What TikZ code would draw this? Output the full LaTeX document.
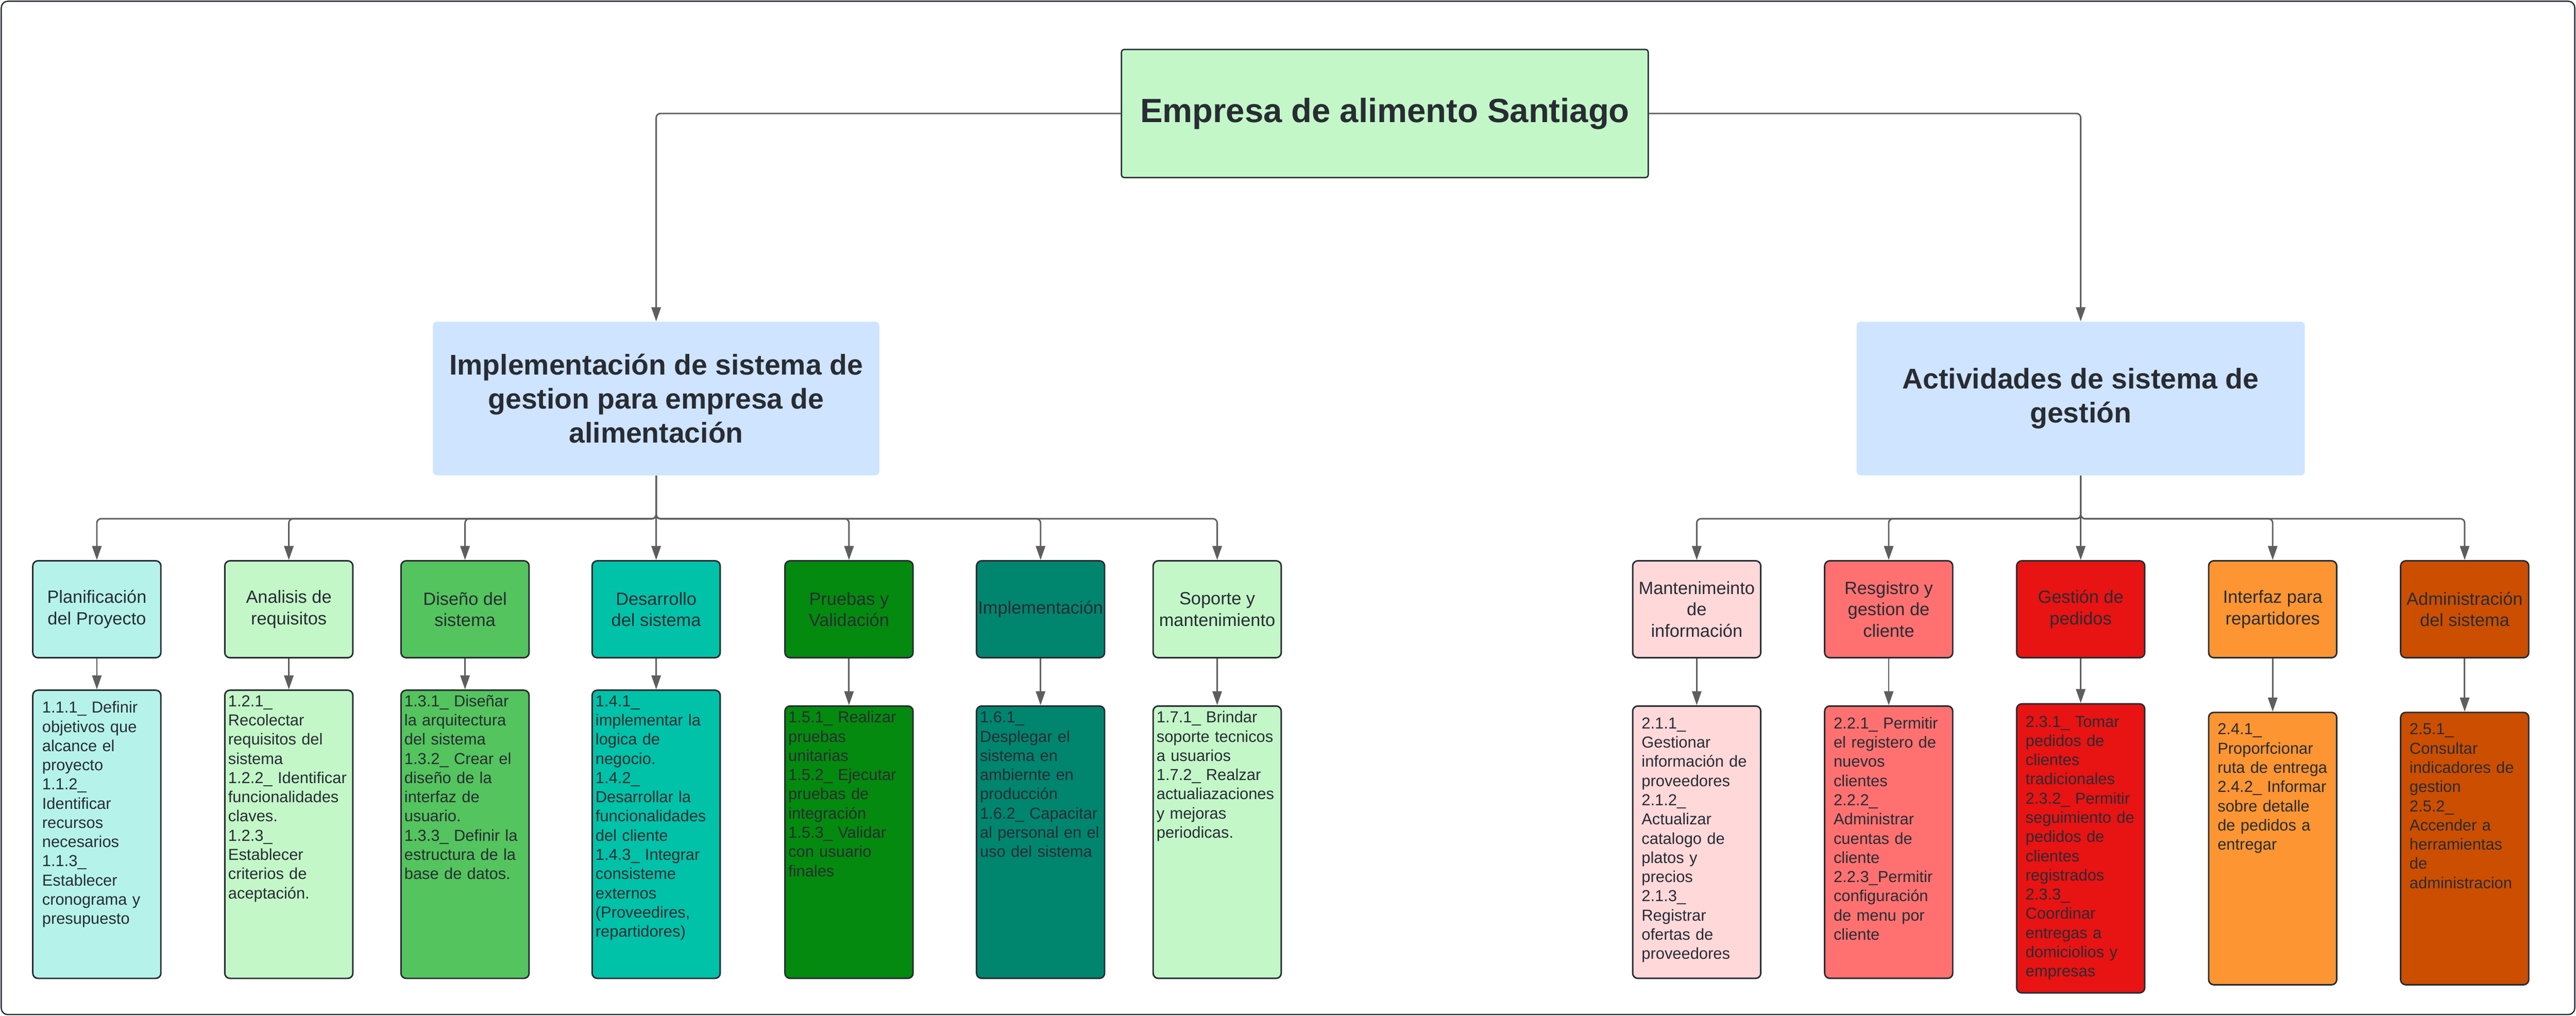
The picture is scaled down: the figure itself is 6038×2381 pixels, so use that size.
\documentclass[tikz,border=0pt]{standalone}
\usepackage{fontspec}
\setmainfont{Liberation Sans}
\usetikzlibrary{arrows.meta}

\definecolor{ink}{HTML}{282C33}
\definecolor{wire}{HTML}{5E5E5E}
\definecolor{croot}{HTML}{C3F7C8}
\definecolor{cbranch}{HTML}{CFE4FF}
\definecolor{cplan}{HTML}{B5F3EA}
\definecolor{canal}{HTML}{C3F7C8}
\definecolor{cdis}{HTML}{54C45E}
\definecolor{cdes}{HTML}{00C2A8}
\definecolor{cprue}{HTML}{048A0E}
\definecolor{cimpl}{HTML}{00856F}
\definecolor{csop}{HTML}{C3F7C8}
\definecolor{cmant}{HTML}{FFD8DA}
\definecolor{creg}{HTML}{FF7171}
\definecolor{cgest}{HTML}{E81313}
\definecolor{cinter}{HTML}{FC9532}
\definecolor{cadmin}{HTML}{CC4E00}

\begin{document}
\begin{tikzpicture}[x=0.01cm,y=-0.01cm,
  link/.style={draw=wire, line width=1pt, rounded corners=0.1cm, -{Triangle[length=0.33cm,width=0.22cm]}},
  rootbox/.style={draw=ink, line width=0.9pt, fill=croot, rounded corners=0.06cm, minimum width=12.34cm, minimum height=3cm, text=ink, font=\fontsize{22.4pt}{27pt}\selectfont\bfseries},
  branch/.style={fill=cbranch, rounded corners=0.1cm, minimum height=3.6cm, align=center, text=ink, font=\fontsize{19pt}{22.8pt}\selectfont\bfseries},
  phase/.style={draw=ink, line width=1pt, rounded corners=0.12cm, minimum width=3cm, minimum height=2.27cm, inner sep=0pt, align=center, text=ink, font=\fontsize{11.8pt}{14.2pt}\selectfont},
  task/.style={draw=ink, line width=1pt, rounded corners=0.12cm, minimum width=3cm, inner sep=0pt, anchor=north},
  tasktext/.style={anchor=base west, inner sep=0pt, text width=2.9cm, align=left, text=ink, font=\fontsize{10.6pt}{12.8pt}\selectfont}]
\useasboundingbox (0,0) rectangle (6038,2381);
\draw[ink, line width=0.03cm, rounded corners=0.15cm] (3,3) rectangle (6035,2378);

\node[rootbox] (root) at (3246,266) {Empresa de alimento Santiago};
\node[branch, minimum width=10.46cm] (impl) at (1538,934) {Implementación de sistema de\\gestion para empresa de\\alimentación};
\node[branch, minimum width=10.5cm] (act) at (4877,934) {Actividades de sistema de\\gestión};

\node[phase, fill=cplan] (p1) at (227,1428) {Planificación\\del Proyecto};
\node[phase, fill=canal] (p2) at (677,1428) {Analisis de\\requisitos};
\node[phase, fill=cdis] (p3) at (1090,1428) {Diseño del\\sistema};
\node[phase, fill=cdes] (p4) at (1538,1428) {Desarrollo\\del sistema};
\node[phase, fill=cprue] (p5) at (1990,1428) {Pruebas y\\Validación};
\node[phase, fill=cimpl] (p6) at (2439,1428) {Implementación};
\node[phase, fill=csop] (p7) at (2853,1428) {Soporte y\\mantenimiento};

\node[phase, fill=cmant] (q1) at (3977,1428) {Mantenimeinto\\de\\información};
\node[phase, fill=creg] (q2) at (4427,1428) {Resgistro y\\gestion de\\cliente};
\node[phase, fill=cgest] (q3) at (4877,1428) {Gestión de\\pedidos};
\node[phase, fill=cinter] (q4) at (5327,1428) {Interfaz para\\repartidores};
\node[phase, fill=cadmin] (q5) at (5777,1428) {Administración\\del sistema};

\node[task, fill=cplan, minimum height=6.75cm] (p1t) at (227,1616) {};
\node[task, fill=canal, minimum height=6.75cm] (p2t) at (677,1616) {};
\node[task, fill=cdis, minimum height=6.75cm] (p3t) at (1090,1616) {};
\node[task, fill=cdes, minimum height=6.75cm] (p4t) at (1538,1616) {};
\node[task, fill=cprue, minimum height=6.38cm] (p5t) at (1990,1653) {};
\node[task, fill=cimpl, minimum height=6.38cm] (p6t) at (2439,1653) {};
\node[task, fill=csop, minimum height=6.38cm] (p7t) at (2853,1653) {};

\node[task, fill=cmant, minimum height=6.38cm] (q1t) at (3977,1653) {};
\node[task, fill=creg, minimum height=6.38cm] (q2t) at (4427,1653) {};
\node[task, fill=cgest, minimum height=6.77cm] (q3t) at (4877,1648) {};
\node[task, fill=cinter, minimum height=6.38cm] (q4t) at (5327,1668) {};
\node[task, fill=cadmin, minimum height=6.38cm] (q5t) at (5777,1668) {};

\node[tasktext] (p1x) at ([shift={(23,55)}]p1t.north west) {1.1.1\_ Definir\\objetivos que\\alcance el\\proyecto\\1.1.2\_\\Identificar\\recursos\\necesarios\\1.1.3\_\\Establecer\\cronograma y\\presupuesto};
\node[tasktext] (p2x) at ([shift={(9,40)}]p2t.north west) {1.2.1\_\\Recolectar\\requisitos del\\sistema\\1.2.2\_ Identificar\\funcionalidades\\claves.\\1.2.3\_\\Establecer\\criterios de\\aceptación.};
\node[tasktext] (p3x) at ([shift={(9,40)}]p3t.north west) {1.3.1\_ Diseñar\\la arquitectura\\del sistema\\1.3.2\_ Crear el\\diseño de la\\interfaz de\\usuario.\\1.3.3\_ Definir la\\estructura de la\\base de datos.};
\node[tasktext] (p4x) at ([shift={(9,40)}]p4t.north west) {1.4.1\_\\implementar la\\logica de\\negocio.\\1.4.2\_\\Desarrollar la\\funcionalidades\\del cliente\\1.4.3\_ Integrar\\consisteme\\externos\\(Proveedires,\\repartidores)};
\node[tasktext] (p5x) at ([shift={(9,41)}]p5t.north west) {1.5.1\_ Realizar\\pruebas\\unitarias\\1.5.2\_ Ejecutar\\pruebas de\\integración\\1.5.3\_ Validar\\con usuario\\finales};
\node[tasktext] (p6x) at ([shift={(9,41)}]p6t.north west) {1.6.1\_\\Desplegar el\\sistema en\\ambiernte en\\producción\\1.6.2\_ Capacitar\\al personal en el\\uso del sistema};
\node[tasktext] (p7x) at ([shift={(9,41)}]p7t.north west) {1.7.1\_ Brindar\\soporte tecnicos\\a usuarios\\1.7.2\_ Realzar\\actualiazaciones\\y mejoras\\periodicas.};

\node[tasktext] (q1x) at ([shift={(22,55)}]q1t.north west) {2.1.1\_\\Gestionar\\información de\\proveedores\\2.1.2\_\\Actualizar\\catalogo de\\platos y\\precios\\2.1.3\_\\Registrar\\ofertas de\\proveedores};
\node[tasktext] (q2x) at ([shift={(22,55)}]q2t.north west) {2.2.1\_ Permitir\\el registero de\\nuevos\\clientes\\2.2.2\_\\Administrar\\cuentas de\\cliente\\2.2.3\_Permitir\\configuración\\de menu por\\cliente};
\node[tasktext] (q3x) at ([shift={(22,56)}]q3t.north west) {2.3.1\_ Tomar\\pedidos de\\clientes\\tradicionales\\2.3.2\_ Permitir\\seguimiento de\\pedidos de\\clientes\\registrados\\2.3.3\_\\Coordinar\\entregas a\\domiciolios y\\empresas};
\node[tasktext] (q4x) at ([shift={(22,54)}]q4t.north west) {2.4.1\_\\Proporfcionar\\ruta de entrega\\2.4.2\_ Informar\\sobre detalle\\de pedidos a\\entregar};
\node[tasktext] (q5x) at ([shift={(22,54)}]q5t.north west) {2.5.1\_\\Consultar\\indicadores de\\gestion\\2.5.2\_\\Accender a\\herramientas\\de\\administracion};

\draw[link] (root.west) -| (impl.north);
\draw[link] (root.east) -| (act.north);

\draw[link] (impl.south) -- ++(0,101) -| (p1.north);
\draw[link] (impl.south) -- ++(0,101) -| (p2.north);
\draw[link] (impl.south) -- ++(0,101) -| (p3.north);
\draw[link] (impl.south) -- (p4.north);
\draw[link] (impl.south) -- ++(0,101) -| (p5.north);
\draw[link] (impl.south) -- ++(0,101) -| (p6.north);
\draw[link] (impl.south) -- ++(0,101) -| (p7.north);

\draw[link] (act.south) -- ++(0,101) -| (q1.north);
\draw[link] (act.south) -- ++(0,101) -| (q2.north);
\draw[link] (act.south) -- (q3.north);
\draw[link] (act.south) -- ++(0,101) -| (q4.north);
\draw[link] (act.south) -- ++(0,101) -| (q5.north);

\draw[link] (p1) -- (p1t);
\draw[link] (p2) -- (p2t);
\draw[link] (p3) -- (p3t);
\draw[link] (p4) -- (p4t);
\draw[link] (p5) -- (p5t);
\draw[link] (p6) -- (p6t);
\draw[link] (p7) -- (p7t);
\draw[link] (q1) -- (q1t);
\draw[link] (q2) -- (q2t);
\draw[link] (q3) -- (q3t);
\draw[link] (q4) -- (q4t);
\draw[link] (q5) -- (q5t);
\end{tikzpicture}
\end{document}
